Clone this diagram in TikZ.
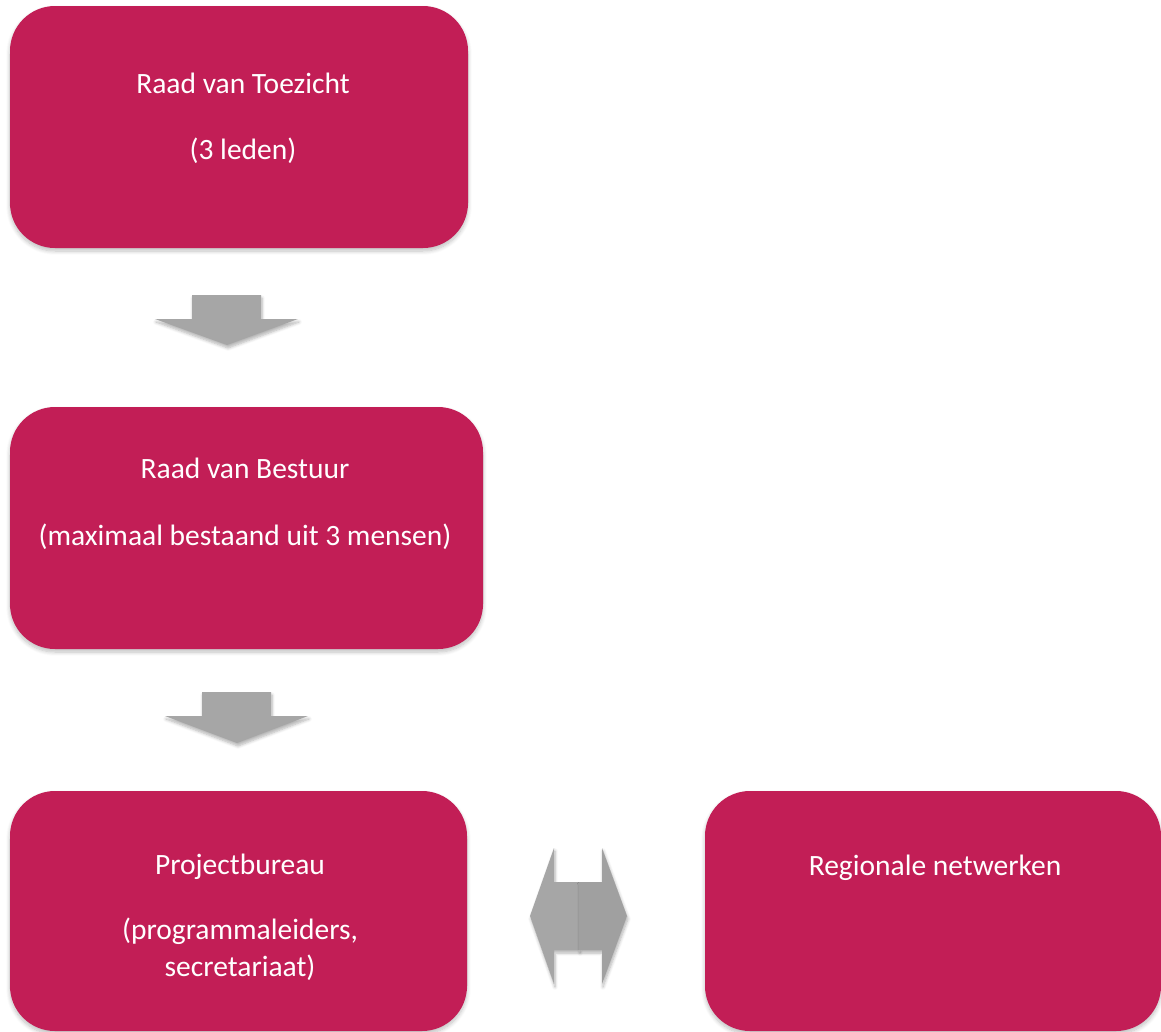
\documentclass[tikz,border=0pt]{standalone}
\usepackage{fontspec}
\setmainfont{Carlito}
\usetikzlibrary{shadows.blur}
\definecolor{box}{HTML}{C21E56}
\definecolor{arr}{HTML}{A6A6A6}
\definecolor{arrb}{HTML}{A0A0A0}
\begin{document}
\begin{tikzpicture}[x=1pt,y=-1pt,
  orgbox/.style={rectangle,fill=box,rounded corners=45pt,inner sep=0pt,outer sep=0pt,
    blur shadow={shadow xshift=0pt,shadow yshift=-3pt,shadow blur radius=4pt,shadow opacity=25,shadow blur steps=8}},
  lbl/.style={text=white,font=\fontsize{29.5}{34}\selectfont,inner sep=0pt,anchor=base},
  blockarrow/.style={fill=arr,draw=none,
    blur shadow={shadow xshift=1pt,shadow yshift=-3pt,shadow blur radius=3pt,shadow opacity=30,shadow blur steps=6}}]
\useasboundingbox (0,0) rectangle (1161,1031);
% boxes
\node[orgbox,minimum width=458pt,minimum height=242pt] (toez) at (239,127) {};
\node[orgbox,minimum width=473pt,minimum height=242pt] (best) at (246.5,528) {};
\node[orgbox,minimum width=457pt,minimum height=240pt] (proj) at (238.5,911) {};
\node[orgbox,minimum width=456pt,minimum height=240pt] (reg) at (933,911) {};
% labels
\node[lbl] (t1) at (243,93) {Raad van Toezicht};
\node[lbl] (t2) at (243,159) {(3 leden)};
\node[lbl] (b1) at (245,478) {Raad van Bestuur};
\node[lbl] (b2) at (245,545) {(maximaal bestaand uit 3 mensen)};
\node[lbl] (p1) at (240,874) {Projectbureau};
\node[lbl] (p2) at (240,939) {(programmaleiders,};
\node[lbl] (p3) at (240,976) {secretariaat)};
\node[lbl] (r1) at (935,875) {Regionale netwerken};
% block arrows
\path[blockarrow] (192,295) -- (261,295) -- (261,319) -- (298,319) -- (227,345) -- (155,319) -- (192,319) -- cycle;
\path[blockarrow] (202,692) -- (271,692) -- (271,716) -- (308,716) -- (237,743) -- (165,716) -- (202,716) -- cycle;
\path[blockarrow] (579,882) -- (554,882) -- (554,848) -- (530,916) -- (554,984) -- (554,950) -- (579,950) -- cycle;
\path[blockarrow,fill=arrb] (579,882) -- (602,882) -- (602,848) -- (627,916) -- (602,984) -- (602,950) -- (579,950) -- cycle;
\end{tikzpicture}
\end{document}
